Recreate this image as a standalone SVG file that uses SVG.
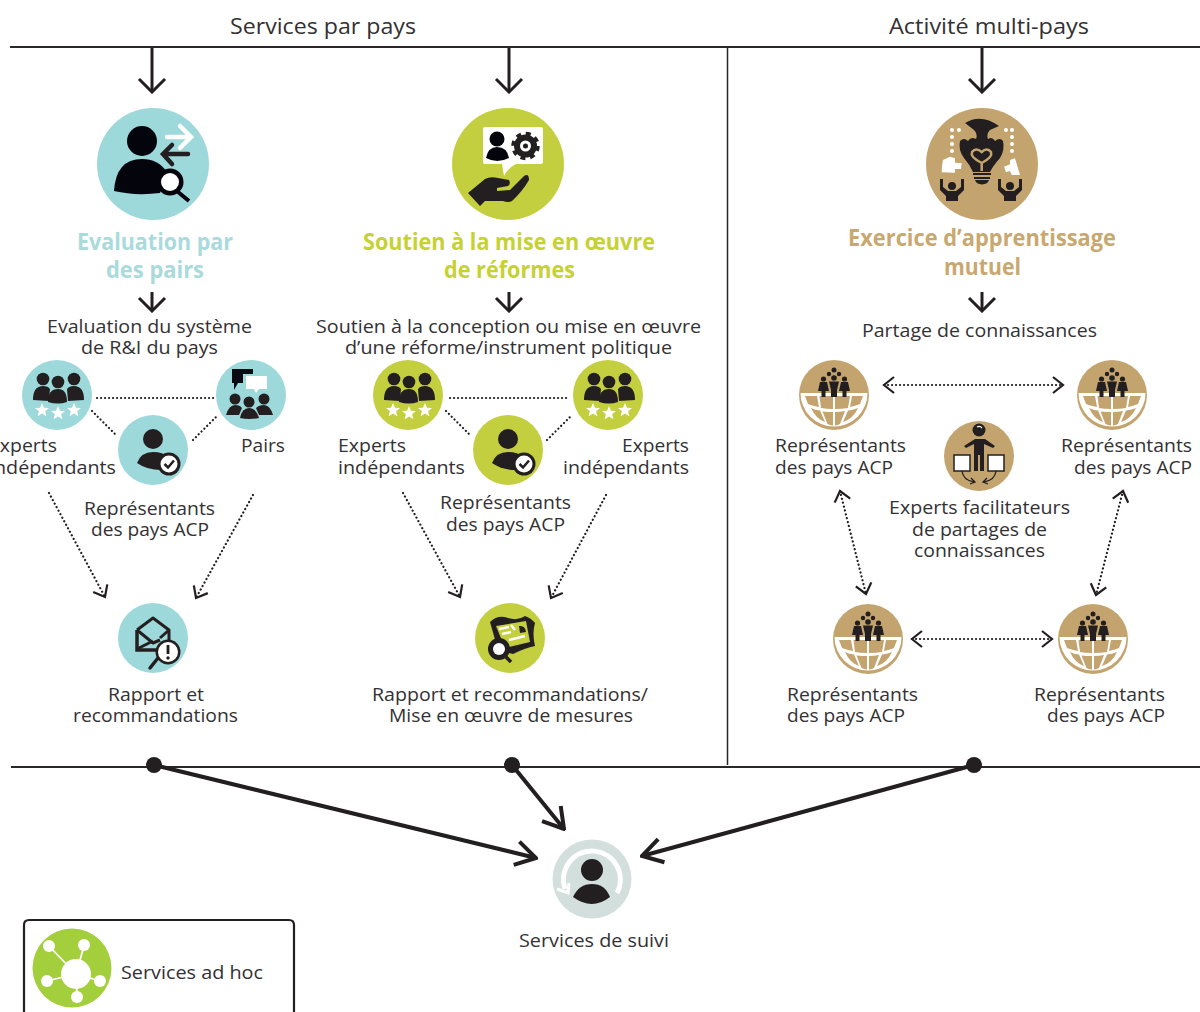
<svg xmlns="http://www.w3.org/2000/svg" width="1200" height="1012" viewBox="0 0 1200 1012">
<style>
text{font-family:"Open Sans","Noto Sans","Liberation Sans",sans-serif;fill:#333133;font-size:19px}
.h{font-size:22px}
.t{font-size:23px;font-weight:700}
.tt{fill:#a9dadc}.tg{fill:#c6d132}.tb{fill:#c9a86f}
.teal{fill:#9dd8da}.green{fill:#c3cf3e}.tan{fill:#c3a46f}
.rule{stroke:#2b2728;stroke-width:2;fill:none}
.arrow{stroke:#231f20;stroke-width:3;fill:none}
.thick{stroke:#231f20;stroke-width:4;fill:none}
.dot{stroke:#231f20;stroke-width:2.200;fill:none;stroke-dasharray:.1 3.9;stroke-linecap:round}
.k{fill:#231f20}.w{fill:#fff}
</style>
<defs>
<marker id="head" viewBox="-15 -15 17 30" refX="0" refY="0" markerWidth="17" markerHeight="30" markerUnits="userSpaceOnUse" orient="auto-start-reverse"><path d="M-13 -13L0 0L-13 13" fill="none" stroke="#231f20" stroke-width="3"/></marker>
<marker id="heads" viewBox="-12 -10 14 20" refX="0" refY="0" markerWidth="14" markerHeight="20" markerUnits="userSpaceOnUse" orient="auto-start-reverse"><path d="M-10 -8L0 0L-10 8" fill="none" stroke="#231f20" stroke-width="2.2"/></marker>
<marker id="headb" viewBox="-24 -15 26 30" refX="0" refY="0" markerWidth="26" markerHeight="30" markerUnits="userSpaceOnUse" orient="auto"><path d="M-20 -12L0 0L-20 12" fill="none" stroke="#231f20" stroke-width="4"/></marker>
<path id="star" d="M0 -7L2 -2.2L7 -2L3.1 1.2L4.4 6.2L0 3.4L-4.4 6.2L-3.1 1.2L-7 -2L-2 -2.2Z" fill="#fff"/>
<g id="experts">
<circle class="k" cx="-14" cy="-16" r="6.3"/><circle class="k" cx="1" cy="-13" r="6.3"/><circle class="k" cx="17" cy="-16" r="6.3"/>
<path class="k" d="M-24 5Q-24 -9 -14 -9Q-9 -9 -7 -6L-8 6Z M27 5Q27 -9 17 -9Q12 -9 10 -6L11 6Z"/>
<path class="k" d="M-9 7Q-9 -6 1 -6Q10 -6 10 7Q1 10 -9 7Z"/>
<use href="#star" x="-15" y="15"/><use href="#star" x="1" y="18"/><use href="#star" x="17" y="15"/>
</g>
<g id="person">
<circle class="k" cx="0" cy="-11" r="10"/>
<path class="k" d="M-16 13Q-12 2 0 2Q10 2 15 7L8 20Q-6 20 -16 13Z"/>
<circle class="k" cx="16" cy="14" r="11.5"/><circle class="w" cx="16" cy="14" r="8.5"/>
<path d="M11.500 14L15 17.500L21 10.500" fill="none" stroke="#231f20" stroke-width="2.500"/>
</g>
<g id="peers">
<path d="M-19 -26H2V-21H-8V-12H-13L-17 -5V-12H-19Z" fill="#0a0a12"/>
<path class="w" d="M-5 -19H16V-6H8L5 -2L3 -6H-5Z"/>
<circle class="k" cx="-16" cy="4" r="5.500"/><circle class="k" cx="-2" cy="7" r="5.500"/><circle class="k" cx="13" cy="4" r="5.500"/>
<path class="k" d="M-25 20Q-22 10 -16 10Q-11 10 -9 13L-12 20Z M22 20Q19 10 13 10Q8 10 5 13L8 20Z"/>
<path class="k" d="M-11 23Q-9 13 -2 13Q5 13 8 23Q-2 25 -11 23Z"/>
</g>
<g id="globe">
<path class="w" d="M-33.500 -2H33.500A33.500 33.500 0 0 1 -33.500 -2Z"/>
<path class="tan" d="M-29 1H-17L-15 12Q-21 11 -26 9Z M-14.500 1H-1V14Q-8 14 -13 13Z M1 1H16L14 13Q8 14 1 14Z M18 1H29L26 9Q21 11 16 12Z M-23 13Q-19 15 -14 15.500L-9 27Q-18 24 -23 13Z M-11.500 16.500Q-6 17 -1 17V30.500Q-4 30 -6.500 29Z M1 17Q6 17 11 16L6 29Q4 30 1 30.500Z M14 15.500Q19 15 24 13Q19 24 9 27Z"/>
<circle class="k" cx="0" cy="-25" r="2.500"/><circle class="k" cx="-5" cy="-21" r="2.200"/><circle class="k" cx="5" cy="-21" r="2.200"/>
<circle class="k" cx="-10.500" cy="-16" r="2.600"/><path class="k" d="M-14 -13H-7L-5 -4H-8.500V2H-12.500V-4H-16Z"/>
<circle class="k" cx="0" cy="-17" r="2.800"/><path class="k" d="M-5 -13.500H5L3 -5V2H-3V-5Z"/>
<circle class="k" cx="10.500" cy="-16" r="2.600"/><path class="k" d="M7 -13H14L16 -4H12.500V2H8.500V-4H5Z"/>
</g>
</defs>

<g id="connectors">
<path class="rule" d="M10 47H1200"/>
<path class="rule" d="M727.500 47V765" style="stroke-width:1.500"/>
<path class="rule" d="M11 767H1200"/>
<path class="arrow" d="M152 48V92" marker-end="url(#head)"/>
<path class="arrow" d="M509 48V92" marker-end="url(#head)"/>
<path class="arrow" d="M982 48V92" marker-end="url(#head)"/>
<path class="arrow" d="M152 292V311" marker-end="url(#head)"/>
<path class="arrow" d="M509 292V311" marker-end="url(#head)"/>
<path class="arrow" d="M982 292V311" marker-end="url(#head)"/>
<path class="dot" d="M97 398H214"/>
<path class="dot" d="M92 411L115 434"/>
<path class="dot" d="M193 440L216 417"/>
<path class="dot" d="M450 398H570"/>
<path class="dot" d="M446 411L469 434"/>
<path class="dot" d="M547 440L570 417"/>
<path class="dot" d="M49 493L105 597" marker-end="url(#heads)"/>
<path class="dot" d="M253 495L196 598" marker-end="url(#heads)"/>
<path class="dot" d="M403 493L460 597" marker-end="url(#heads)"/>
<path class="dot" d="M606 495L551 598" marker-end="url(#heads)"/>
<path class="dot" d="M884 385H1063" marker-start="url(#heads)" marker-end="url(#heads)"/>
<path class="dot" d="M840 491L866 594" marker-start="url(#heads)" marker-end="url(#heads)"/>
<path class="dot" d="M1123 491L1096 595" marker-start="url(#heads)" marker-end="url(#heads)"/>
<path class="dot" d="M912 639H1052" marker-start="url(#heads)" marker-end="url(#heads)"/>
<path class="thick" d="M154 765L536 858" marker-end="url(#headb)"/>
<path class="thick" d="M512 765L564 829" marker-end="url(#headb)"/>
<path class="thick" d="M974 765L642 856" marker-end="url(#headb)"/>
<circle class="k" cx="154" cy="765" r="8"/><circle class="k" cx="512" cy="765" r="8"/><circle class="k" cx="974" cy="765" r="8"/>
</g>

<g id="headers">
<text class="h" x="230" y="34" textLength="186" lengthAdjust="spacingAndGlyphs">Services par pays</text>
<text class="h" x="889" y="34" textLength="200" lengthAdjust="spacingAndGlyphs">Activité multi-pays</text>
</g>

<g id="peer-review">
<circle class="teal" cx="153" cy="164" r="56"/>
<circle cx="-11" cy="-23" r="15" fill="#04040c" transform="translate(153 164)"/>
<path d="M114 191Q116 159 142 159Q158 159 167 172L160 193Q135 196 114 191Z" fill="#04040c"/>
<path d="M167 137H191M180 126L191 137L180 148" fill="none" stroke="#fff" stroke-width="4.500" stroke-linecap="round"/>
<path d="M188 154H164M172 145L163 154L172 164" fill="none" stroke="#231f20" stroke-width="4.500" stroke-linecap="round"/>
<circle cx="170" cy="182" r="13.500" fill="#04040c"/><circle class="w" cx="170" cy="182" r="9"/>
<path d="M178 192L189 201" stroke="#04040c" stroke-width="4" fill="none"/>
<text class="t tt" x="77" y="250" textLength="156" lengthAdjust="spacingAndGlyphs">Evaluation par</text>
<text class="t tt" x="106" y="278" textLength="98" lengthAdjust="spacingAndGlyphs">des pairs</text>
<text x="47" y="333" textLength="205" lengthAdjust="spacingAndGlyphs">Evaluation du système</text>
<text x="81" y="354" textLength="137" lengthAdjust="spacingAndGlyphs">de R&amp;I du pays</text>
</g>
<g id="pr-experts">
<circle class="teal" cx="57" cy="395" r="35"/><use href="#experts" x="57" y="395"/>
<text x="-11" y="452" textLength="68" lengthAdjust="spacingAndGlyphs">Experts</text>
<text x="-11" y="474" textLength="127" lengthAdjust="spacingAndGlyphs">indépendants</text>
</g>
<g id="pr-peers">
<circle class="teal" cx="251" cy="395" r="35"/><use href="#peers" x="251" y="395"/>
<text x="241" y="452" textLength="44" lengthAdjust="spacingAndGlyphs">Pairs</text>
</g>
<g id="pr-acp">
<circle class="teal" cx="153" cy="450" r="35"/><use href="#person" x="153" y="450"/>
<text x="84" y="515" textLength="131" lengthAdjust="spacingAndGlyphs">Représentants</text>
<text x="91" y="536" textLength="118" lengthAdjust="spacingAndGlyphs">des pays ACP</text>
</g>
<g id="pr-report">
<circle class="teal" cx="153" cy="638" r="35"/>
<path d="M137 630L153 618L169 630V640M137 630L153 643L160 640M137 649L153 641M169 630L160 638" fill="none" stroke="#231f20" stroke-width="3" stroke-linejoin="round"/>
<path d="M137 630V650H158" fill="none" stroke="#231f20" stroke-width="3.500"/>
<path d="M158 658L150 668" stroke="#231f20" stroke-width="3.500" fill="none" stroke-linecap="round"/>
<circle cx="168" cy="652" r="12.500" fill="#231f20"/><circle class="w" cx="168" cy="652" r="10"/>
<path d="M168 645V654" stroke="#231f20" stroke-width="2.800"/><circle class="k" cx="168" cy="658" r="1.700"/>
<text x="108" y="701" textLength="96" lengthAdjust="spacingAndGlyphs">Rapport et</text>
<text x="73" y="722" textLength="165" lengthAdjust="spacingAndGlyphs">recommandations</text>
</g>

<g id="reform-support">
<circle class="green" cx="508" cy="164" r="56"/>
<path class="w" d="M485 127H541Q543 127 543 129V162Q543 164 541 164H516Q508 168 504 176L502 164H485Q483 164 483 162V129Q483 127 485 127Z"/>
<circle cx="497" cy="139" r="7.500" fill="#04040c"/>
<path d="M486 158Q488 147 497 147Q507 147 509 158Q497 164 486 158Z" fill="#04040c"/>
<circle cx="525.500" cy="146" r="8.500" fill="none" stroke="#231f20" stroke-width="6"/>
<circle cx="525.500" cy="146" r="12.500" fill="none" stroke="#231f20" stroke-width="3.500" stroke-dasharray="5 4.800"/>
<circle class="k" cx="525.500" cy="146" r="2.500"/>
<path class="k" d="M468 193L485 179Q490 176 498 178L509 180Q511 184 508 186L497 188V191L510 190L524 176Q529 173 529 180Q522 192 512 201Q508 203 503 201H485L480 206Z"/>
<text class="t tg" x="363" y="250" textLength="292" lengthAdjust="spacingAndGlyphs">Soutien à la mise en œuvre</text>
<text class="t tg" x="444" y="278" textLength="131" lengthAdjust="spacingAndGlyphs">de réformes</text>
<text x="316" y="333" textLength="385" lengthAdjust="spacingAndGlyphs">Soutien à la conception ou mise en œuvre</text>
<text x="345" y="354" textLength="327" lengthAdjust="spacingAndGlyphs">d’une réforme/instrument politique</text>
</g>
<g id="rs-experts-1">
<circle class="green" cx="408" cy="395" r="35"/><use href="#experts" x="408" y="395"/>
<text x="338" y="452" textLength="68" lengthAdjust="spacingAndGlyphs">Experts</text>
<text x="338" y="474" textLength="127" lengthAdjust="spacingAndGlyphs">indépendants</text>
</g>
<g id="rs-experts-2">
<circle class="green" cx="608" cy="395" r="35"/><use href="#experts" x="608" y="395"/>
<text x="622" y="452" textLength="67" lengthAdjust="spacingAndGlyphs">Experts</text>
<text x="563" y="474" textLength="126" lengthAdjust="spacingAndGlyphs">indépendants</text>
</g>
<g id="rs-acp">
<circle class="green" cx="508" cy="450" r="35"/><use href="#person" x="508" y="450"/>
<text x="440" y="509" textLength="131" lengthAdjust="spacingAndGlyphs">Représentants</text>
<text x="446" y="531" textLength="119" lengthAdjust="spacingAndGlyphs">des pays ACP</text>
</g>
<g id="rs-report">
<circle class="green" cx="510" cy="638" r="35"/>
<path class="k" d="M490 622Q498 614 508 618Q518 621 525 616Q531 618 535 623Q532 633 535 646Q525 648 513 654L498 650Z"/>
<path class="green" d="M496 626L526 621L530 642L505 648Z"/>
<path d="M499 629L509 627M502 634L511 632M509 640L525 636M511 625L515 630" stroke="#fff" stroke-width="2.500" fill="none"/>
<path class="k" d="M519 626A6 6 0 0 1 526 632L520 633Z"/>
<circle cx="499" cy="649" r="11" fill="#231f20"/><circle class="w" cx="499" cy="649" r="6"/>
<path d="M506 657L511 662" stroke="#231f20" stroke-width="3.500" fill="none"/>
<text x="372" y="701" textLength="276" lengthAdjust="spacingAndGlyphs">Rapport et recommandations/</text>
<text x="389" y="722" textLength="244" lengthAdjust="spacingAndGlyphs">Mise en œuvre de mesures</text>
</g>

<g id="mutual-learning">
<circle class="tan" cx="982" cy="164" r="56"/>
<path class="k" d="M965 123Q981 113 999 126L990 130Q986 134 988 139Q992 136 995 141Q1000 137 1003 141Q1005 150 1000 158Q993 166 990 172H973Q970 165 964 158Q958 150 960 141Q964 137 968 141Q971 136 976 139Q978 134 974 130Z"/>
<path d="M981.700 171V163Q970 157 972 152Q976 147 981.700 152Q987 147 991 152Q993 157 981.700 163" fill="none" stroke="#c3a46f" stroke-width="2.500"/>
<path d="M973 174H991M974 178H990" stroke="#231f20" stroke-width="2"/>
<path class="k" d="M975 180H989Q988 184 982 184.500Q976 184 975 180Z"/>
<g class="w"><circle cx="952" cy="130" r="2"/><circle cx="959" cy="130" r="2"/><circle cx="952" cy="137" r="2"/><circle cx="952" cy="144" r="2"/><circle cx="952" cy="151" r="2"/><circle cx="1006" cy="130" r="2"/><circle cx="1012" cy="130" r="2"/><circle cx="1012" cy="137" r="2"/><circle cx="1012" cy="144" r="2"/><circle cx="1012" cy="151" r="2"/></g>
<path class="w" d="M941.700 172.300Q942 164 943 160L950 156.700L955 158.300V162.700L961.700 163.300L961 169H955V172.700Z"/>
<path class="w" d="M1020 175L1015 158.300L1010 160V164.300L1004 166.700L1006 172.300L1010 171L1011.700 175Z"/>
<g id="learners">
<circle class="k" cx="952" cy="186" r="4"/><path class="k" d="M940 179H943V187L948 191H956L961 187V179H964V190L958 196V201H946V196L940 190Z"/>
<circle class="k" cx="1010" cy="186" r="4"/><path class="k" d="M998 179H1001V187L1006 191H1014L1019 187V179H1022V190L1016 196V201H1004V196L998 190Z"/>
</g>
<text class="t tb" x="848" y="246" textLength="268" lengthAdjust="spacingAndGlyphs">Exercice d’apprentissage</text>
<text class="t tb" x="944" y="275" textLength="77" lengthAdjust="spacingAndGlyphs">mutuel</text>
<text x="862" y="337" textLength="235" lengthAdjust="spacingAndGlyphs">Partage de connaissances</text>
</g>
<g id="ml-acp-1">
<circle class="tan" cx="834" cy="395" r="35"/><use href="#globe" x="834" y="395"/>
<text x="775" y="452" textLength="131" lengthAdjust="spacingAndGlyphs">Représentants</text>
<text x="775" y="474" textLength="118" lengthAdjust="spacingAndGlyphs">des pays ACP</text>
</g>
<g id="ml-acp-2">
<circle class="tan" cx="1112" cy="395" r="35"/><use href="#globe" x="1112" y="395"/>
<text x="1061" y="452" textLength="131" lengthAdjust="spacingAndGlyphs">Représentants</text>
<text x="1074" y="474" textLength="118" lengthAdjust="spacingAndGlyphs">des pays ACP</text>
</g>
<g id="ml-facilitators">
<circle class="tan" cx="979" cy="456" r="35"/>
<circle class="k" cx="979" cy="430" r="6.500"/><path d="M977 427A4 4 0 0 1 982 428" stroke="#fff" stroke-width="1.200" fill="none"/>
<path class="k" d="M964 446L975 439H985L995 446L993 448L984 444V471H980V455H978V471H974V444L966 448Z"/>
<rect x="954" y="455" width="16" height="16" fill="#fff" stroke="#231f20" stroke-width="1.500"/>
<rect x="988" y="455" width="16" height="16" fill="#fff" stroke="#231f20" stroke-width="1.500"/>
<path d="M962 471Q963 480 974 482M971 478L975 482L970 484M996 471Q995 480 984 482M987 478L983 482L988 484" fill="none" stroke="#231f20" stroke-width="1.300"/>
<text x="889" y="514" textLength="181" lengthAdjust="spacingAndGlyphs">Experts facilitateurs</text>
<text x="912" y="536" textLength="135" lengthAdjust="spacingAndGlyphs">de partages de</text>
<text x="914" y="557" textLength="131" lengthAdjust="spacingAndGlyphs">connaissances</text>
</g>
<g id="ml-acp-3">
<circle class="tan" cx="868" cy="639" r="35"/><use href="#globe" x="868" y="639"/>
<text x="787" y="701" textLength="131" lengthAdjust="spacingAndGlyphs">Représentants</text>
<text x="787" y="722" textLength="118" lengthAdjust="spacingAndGlyphs">des pays ACP</text>
</g>
<g id="ml-acp-4">
<circle class="tan" cx="1093" cy="639" r="35"/><use href="#globe" x="1093" y="639"/>
<text x="1034" y="701" textLength="131" lengthAdjust="spacingAndGlyphs">Représentants</text>
<text x="1047" y="722" textLength="118" lengthAdjust="spacingAndGlyphs">des pays ACP</text>
</g>

<g id="follow-up">
<circle cx="592" cy="879" r="39.500" fill="#d3dfdc"/>
<path d="M617 893A28.500 28.500 0 1 0 565 889" fill="none" stroke="#fff" stroke-width="5"/>
<path d="M557 889L568 893L569 883" fill="none" stroke="#fff" stroke-width="3"/>
<circle class="k" cx="592" cy="870" r="11"/>
<path class="k" d="M573 897Q579 884 592 884Q605 884 610 897Q592 911 573 897Z"/>
<text x="519" y="947" textLength="150" lengthAdjust="spacingAndGlyphs">Services de suivi</text>
</g>

<g id="ad-hoc">
<path d="M24 1012V925Q24 920 29 920H289Q294 920 294 925V1012" fill="none" stroke="#231f20" stroke-width="2.200"/>
<circle cx="72" cy="968" r="39.500" fill="#a4cf3c"/>
<path d="M49 946L76 974L84 946M47 981L76 974L100 981M76 974L77 996" fill="none" stroke="#fff" stroke-width="1.800"/>
<g class="w"><circle cx="76" cy="974" r="15"/><circle cx="49" cy="946" r="6"/><circle cx="84" cy="945" r="6"/><circle cx="47" cy="981" r="6"/><circle cx="100" cy="981" r="6"/><circle cx="77" cy="997" r="6"/></g>
<text x="121" y="979" textLength="142" lengthAdjust="spacingAndGlyphs">Services ad hoc</text>
</g>
</svg>
